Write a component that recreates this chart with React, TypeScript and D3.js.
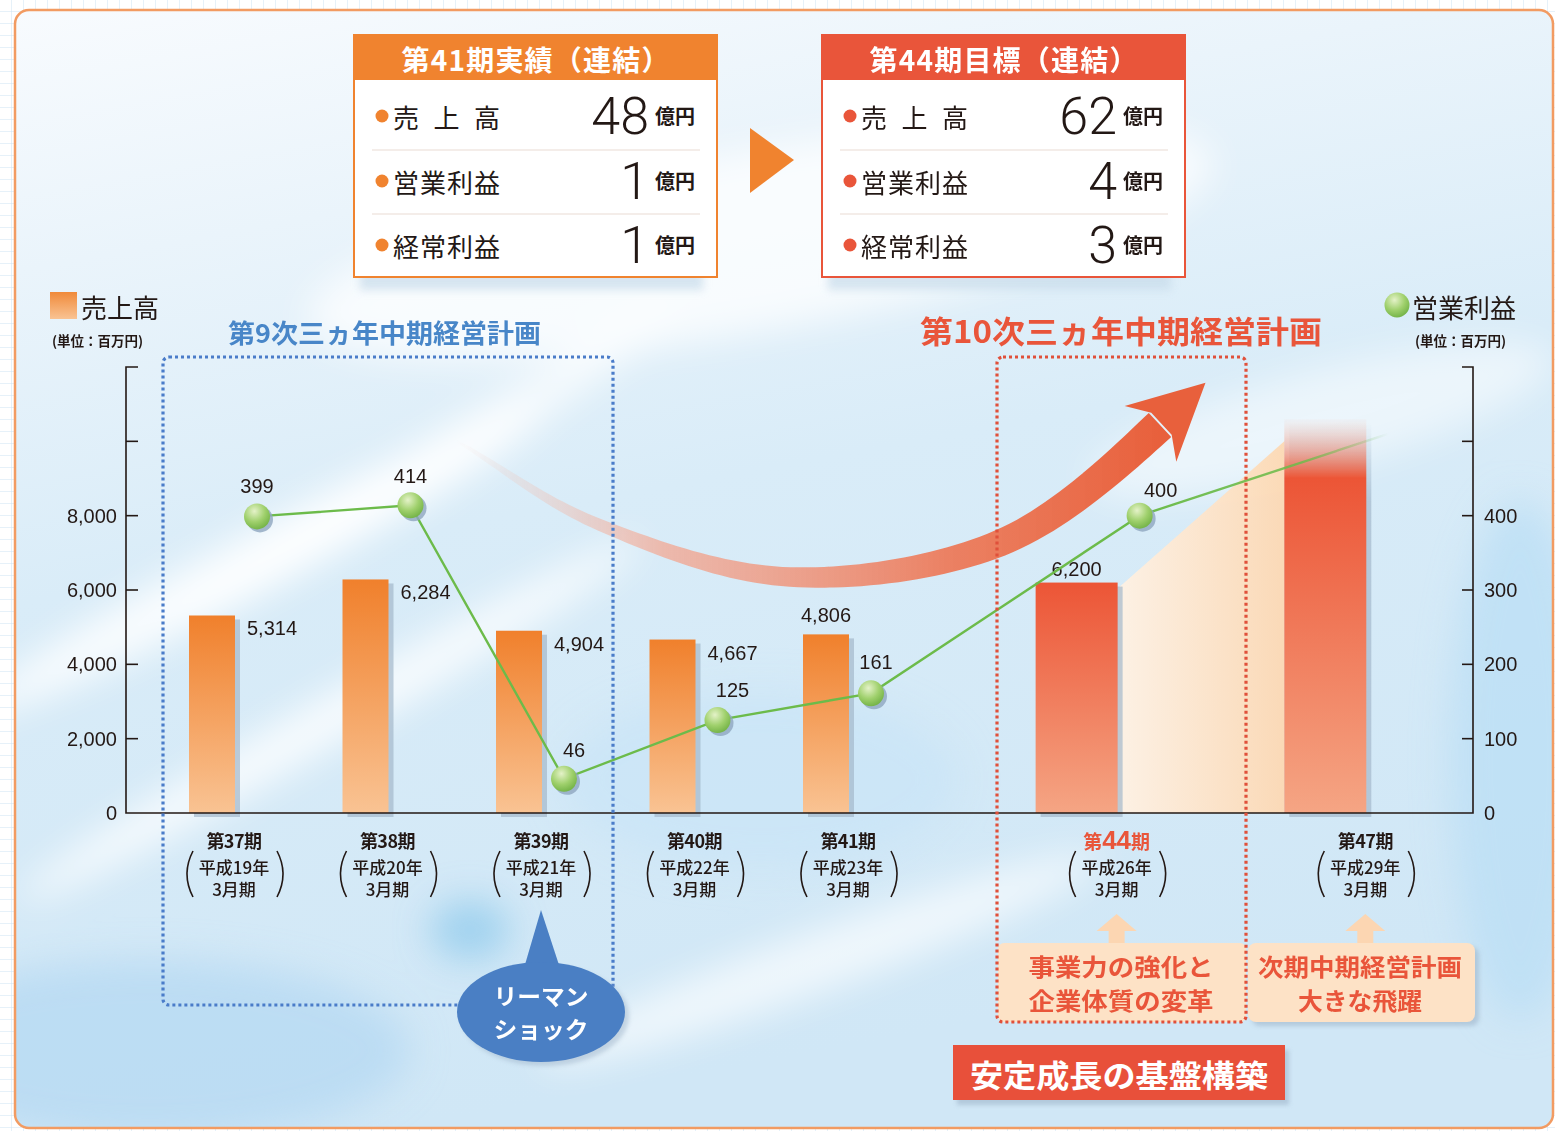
import * as d3 from "d3";

const W = 1555;
const H = 1131;

// categories (fiscal periods)
const periods = ["第37期", "第38期", "第39期", "第40期", "第41期", "第44期", "第47期"];
const eraYears = ["平成19年", "平成20年", "平成21年", "平成22年", "平成23年", "平成26年", "平成29年"];
// horizontal slot of each period (gap before the plan years)
const slots = [0, 1, 2, 3, 4, 5.75, 7.37];
const planned = [false, false, false, false, false, true, true];

// 売上高 (百万円) - last one is an unlabelled outlook bar
const sales = [5314, 6284, 4904, 4667, 4806, 6200, 10600];
const salesLabels = ["5,314", "6,284", "4,904", "4,667", "4,806", "6,200", ""];
const salesJoin = 10000; // where the peach band meets the 第47期 bar

// 営業利益 (百万円)
const profit = [399, 414, 46, 125, 161, 400];
const profitOutlook = 510;

const salesTicks = [0, 2000, 4000, 6000, 8000, 10000, 12000];
const profitTicks = [0, 100, 200, 300, 400, 500, 600];

// summary boxes
const summaryItems = ["売 上 高", "営業利益", "経常利益"];
const resultValues = ["48", "1", "1"];
const targetValues = ["62", "4", "3"];

const JP = "'Noto Sans CJK JP', 'Noto Sans', sans-serif";
const NUM = "'Liberation Sans', Arial, sans-serif";
const THIN = "Roboto, 'Liberation Sans', sans-serif";
const INK = "#231815";
const ORANGE = "#f0832f";
const RED = "#e9553a";

const yL = d3.scaleLinear().domain([0, 12000]).range([813, 367]);
const yR = d3.scaleLinear().domain([0, 600]).range([813, 367]);
const xs = d3.scaleLinear().domain([0, 1]).range([234, 387.5]);
const cx = (i: number) => xs(slots[i]);

const profitDx = [0, 0, 10, 15, 5, 21];
const profitDy = [-30, -29, -29, -30, -31, -26];

// curved arrow centre line (annotation)
const arrowGuide: [number, number][] = [
  [300, 350],
  [455, 440],
  [600, 525],
  [790, 577],
  [1000, 543],
  [1160, 425],
  [1230, 330],
];

function catmull(pts: [number, number][], steps: number) {
  const out: [number, number][] = [];
  for (let i = 1; i < pts.length - 2; i++) {
    const p0 = pts[i - 1], p1 = pts[i], p2 = pts[i + 1], p3 = pts[i + 2];
    for (let k = 0; k < steps; k++) {
      const t = k / steps;
      const t2 = t * t, t3 = t2 * t;
      const f = (a: number, b: number, c: number, d: number) =>
        0.5 * (2 * b + (-a + c) * t + (2 * a - 5 * b + 4 * c - d) * t2 + (-a + 3 * b - 3 * c + d) * t3);
      out.push([f(p0[0], p1[0], p2[0], p3[0]), f(p0[1], p1[1], p2[1], p3[1])]);
    }
  }
  out.push(pts[pts.length - 2]);
  return out;
}

function arrowShapes() {
  const pts = catmull(arrowGuide, 24);
  const lens = [0];
  for (let i = 1; i < pts.length; i++) {
    lens.push(lens[i - 1] + Math.hypot(pts[i][0] - pts[i - 1][0], pts[i][1] - pts[i - 1][1]));
  }
  const total = lens[lens.length - 1];
  const left: [number, number][] = [];
  const right: [number, number][] = [];
  pts.forEach((p, i) => {
    const a = pts[Math.max(0, i - 1)];
    const b = pts[Math.min(pts.length - 1, i + 1)];
    const dx = b[0] - a[0], dy = b[1] - a[1];
    const l = Math.hypot(dx, dy) || 1;
    const nx = -dy / l, ny = dx / l;
    const s = lens[i] / total;
    const w = (2 + 31 * Math.pow(s, 0.75)) / 2;
    left.push([p[0] + nx * w, p[1] + ny * w]);
    right.push([p[0] - nx * w, p[1] - ny * w]);
  });
  const shaft = "M" + left.concat(right.reverse()).map((p) => p.join(",")).join("L") + "Z";
  const end = arrowGuide[arrowGuide.length - 2];
  const prev = arrowGuide[arrowGuide.length - 3];
  const nxt = arrowGuide[arrowGuide.length - 1];
  let ux = nxt[0] - prev[0], uy = nxt[1] - prev[1];
  const ul = Math.hypot(ux, uy);
  ux /= ul; uy /= ul;
  const nx = -uy, ny = ux;
  const tip = [end[0] + ux * 62, end[1] + uy * 62];
  const b1 = [end[0] - ux * 13 + nx * 38, end[1] - uy * 13 + ny * 38];
  const b2 = [end[0] - ux * 13 - nx * 38, end[1] - uy * 13 - ny * 38];
  const n1 = [end[0] + ux * 2 + nx * 15, end[1] + uy * 2 + ny * 15];
  const n2 = [end[0] + ux * 2 - nx * 15, end[1] + uy * 2 - ny * 15];
  const head = `M${tip}L${b1}L${n1}L${n2}L${b2}Z`;
  return { shaft, head };
}

function SummaryBox({ x, title, values, color }: { x: number; title: string; values: string[]; color: string }) {
  const w = 363;
  const rows = [116, 181, 245];
  return (
    <g>
      <rect x={x + 6} y={270} width={w - 20} height={20} fill="#c7dbea" opacity={0.7} filter="url(#blur4)" />
      <rect x={x} y={35} width={w} height={242} fill="#ffffff" stroke={color} strokeWidth={2} />
      <rect x={x} y={35} width={w} height={45} fill={color} />
      <text x={x + w / 2} y={59} textAnchor="middle" dominantBaseline="central" fill="#fff" fontFamily={JP} fontWeight={700} fontSize={28} textLength={268} lengthAdjust="spacing">
        {title}
      </text>
      {[150, 214].map((y) => (
        <line key={y} x1={x + 18} x2={x + 346} y1={y} y2={y} stroke="#eadcd4" strokeWidth={1.2} />
      ))}
      {rows.map((y, i) => (
        <g key={i}>
          <circle cx={x + 28} cy={y} r={6.5} fill={color} />
          <text x={x + 39} y={y} dominantBaseline="central" fill={INK} fontFamily={JP} fontSize={26} textLength={107} lengthAdjust="spacing">
            {summaryItems[i]}
          </text>
          <text x={x + 295} y={y + 18} textAnchor="end" fill={INK} fontFamily={THIN} fontWeight={300} fontSize={52}>
            {values[i]}
          </text>
          <text x={x + 301} y={y + 8} fill={INK} fontFamily={JP} fontWeight={700} fontSize={20}>
            億円
          </text>
        </g>
      ))}
    </g>
  );
}

function UpArrow({ x }: { x: number }) {
  const pts = [
    [x, 914], [x + 20, 931], [x + 8, 931], [x + 8, 945], [x - 8, 945], [x - 8, 931], [x - 20, 931],
  ];
  return <polygon points={pts.map((p) => p.join(",")).join(" ")} fill="#fcd6b2" />;
}

export default function App() {
  const { shaft, head } = arrowShapes();
  const mx = (i: number) => cx(i) + 23;
  const line = d3
    .line<number>()
    .x((_, i) => mx(i))
    .y((d) => yR(d));
  const p5 = [mx(5), yR(profit[5])];
  const pEnd = [mx(6), yR(profitOutlook)];

  const i44 = 5, i47 = 6;
  const r44 = cx(i44) + 1;
  const l47 = cx(i47) + 1 - 82;

  return (
    <svg width={W} height={H} style={{ position: "absolute", left: 0, top: 0, display: "block" }} fontFamily={JP}>
      <defs>
        <pattern id="grid" width={12} height={12} patternUnits="userSpaceOnUse">
          <rect width={12} height={12} fill="#ffffff" />
          <path d="M12 0V12M0 12H12" stroke="#cde3f3" strokeWidth={1} />
        </pattern>
        <linearGradient id="sky" x1="0" y1="0" x2="0.25" y2="1">
          <stop offset="0" stopColor="#f8fbfe" />
          <stop offset="0.22" stopColor="#eaf4fb" />
          <stop offset="0.5" stopColor="#d9ecf8" />
          <stop offset="1" stopColor="#d0e7f6" />
        </linearGradient>
        <filter id="blur20" x="-50%" y="-50%" width="200%" height="200%">
          <feGaussianBlur stdDeviation={18} />
        </filter>
        <filter id="blur4" x="-20%" y="-50%" width="140%" height="200%">
          <feGaussianBlur stdDeviation={4} />
        </filter>
        <filter id="blur2" x="-20%" y="-20%" width="140%" height="140%">
          <feGaussianBlur stdDeviation={2} />
        </filter>
        <clipPath id="frameClip">
          <rect x={15} y={10} width={1538} height={1118} rx={14} />
        </clipPath>
        <linearGradient id="barActual" x1="0" y1="0" x2="0" y2="1">
          <stop offset="0" stopColor="#f0802c" />
          <stop offset="1" stopColor="#f9c393" />
        </linearGradient>
        <linearGradient id="barPlan" x1="0" y1="0" x2="0" y2="1">
          <stop offset="0" stopColor="#ec5536" />
          <stop offset="1" stopColor="#f5a584" />
        </linearGradient>
        <linearGradient id="barPlanFade" x1="0" y1="0" x2="0" y2="1">
          <stop offset="0" stopColor="#f7b8a4" stopOpacity={0.05} />
          <stop offset="0.15" stopColor="#ec5536" stopOpacity={1} />
          <stop offset="1" stopColor="#f5a584" />
        </linearGradient>
        <linearGradient id="shadowFade" x1="0" y1="0" x2="0" y2="1">
          <stop offset="0" stopColor="#a4b8cb" stopOpacity={0} />
          <stop offset="0.2" stopColor="#a4b8cb" stopOpacity={0.7} />
          <stop offset="1" stopColor="#a4b8cb" stopOpacity={0.7} />
        </linearGradient>
        <linearGradient id="peach" x1="0" y1="0" x2="1" y2="0">
          <stop offset="0" stopColor="#fef1e3" />
          <stop offset="1" stopColor="#fcd8b3" />
        </linearGradient>
        <linearGradient id="arrowGrad" gradientUnits="userSpaceOnUse" x1={455} y1={0} x2={1160} y2={0}>
          <stop offset="0" stopColor="#f6c2b2" stopOpacity={0} />
          <stop offset="0.3" stopColor="#f2a792" stopOpacity={0.75} />
          <stop offset="0.7" stopColor="#ec7b5b" stopOpacity={0.95} />
          <stop offset="1" stopColor="#e8603c" />
        </linearGradient>
        <linearGradient id="lineFade" gradientUnits="userSpaceOnUse" x1={p5[0]} y1={0} x2={pEnd[0]} y2={0}>
          <stop offset="0" stopColor="#6cbb4a" />
          <stop offset="0.65" stopColor="#6cbb4a" stopOpacity={0.85} />
          <stop offset="1" stopColor="#6cbb4a" stopOpacity={0} />
        </linearGradient>
        <radialGradient id="dot" cx="0.4" cy="0.3" r="0.75">
          <stop offset="0" stopColor="#e4f2c8" />
          <stop offset="0.55" stopColor="#9fd06c" />
          <stop offset="1" stopColor="#6fb043" />
        </radialGradient>
        <linearGradient id="legendSq" x1="0" y1="0" x2="0" y2="1">
          <stop offset="0" stopColor="#f08a3a" />
          <stop offset="1" stopColor="#f9c393" />
        </linearGradient>
      </defs>

      {/* background */}
      <rect width={W} height={H} fill="url(#grid)" />
      <rect x={15} y={10} width={1538} height={1118} rx={14} fill="url(#sky)" />
      <g clipPath="url(#frameClip)">
        <g filter="url(#blur20)">
          <ellipse cx={260} cy={560} rx={320} ry={30} fill="#ffffff" opacity={0.85} transform="rotate(-28 260 560)" />
          <ellipse cx={330} cy={720} rx={360} ry={24} fill="#ffffff" opacity={0.8} transform="rotate(-30 330 720)" />
          <ellipse cx={420} cy={470} rx={300} ry={22} fill="#ffffff" opacity={0.75} transform="rotate(-32 420 470)" />
          <ellipse cx={150} cy={1050} rx={260} ry={90} fill="#b6daf3" opacity={0.8} />
          <ellipse cx={1520} cy={760} rx={70} ry={260} fill="#bcdff5" opacity={0.8} />
          <ellipse cx={760} cy={240} rx={460} ry={90} fill="#ffffff" opacity={0.75} transform="rotate(-10 760 240)" />
          <ellipse cx={820} cy={960} rx={300} ry={30} fill="#ffffff" opacity={0.65} transform="rotate(-20 820 960)" />
          <ellipse cx={1320} cy={420} rx={240} ry={50} fill="#ffffff" opacity={0.5} transform="rotate(-15 1320 420)" />
          <ellipse cx={470} cy={930} rx={40} ry={30} fill="#7fc3ea" opacity={0.6} />
          <ellipse cx={760} cy={780} rx={200} ry={90} fill="#c9e4f6" opacity={0.7} />
        </g>
      </g>
      <rect x={15} y={10} width={1538} height={1118} rx={14} fill="none" stroke="#f29b62" strokeWidth={2.5} />

      {/* summary boxes */}
      <SummaryBox x={354} title="第41期実績（連結）" values={resultValues} color={ORANGE} />
      <SummaryBox x={822} title="第44期目標（連結）" values={targetValues} color={RED} />
      <polygon points="750,128 750,193 794,160" fill={ORANGE} />

      {/* legends */}
      <rect x={50} y={292} width={27} height={27} fill="url(#legendSq)" />
      <text x={81} y={306} dominantBaseline="central" fill={INK} fontSize={26}>売上高</text>
      <text x={52} y={340} dominantBaseline="central" fill={INK} fontSize={13.5} fontWeight={700}>(単位：百万円)</text>
      <circle cx={1397} cy={305} r={12.5} fill="url(#dot)" />
      <text x={1412} y={306} dominantBaseline="central" fill={INK} fontSize={26}>営業利益</text>
      <text x={1415} y={340} dominantBaseline="central" fill={INK} fontSize={13.5} fontWeight={700}>(単位：百万円)</text>

      {/* plan titles */}
      <text x={228} y={331} dominantBaseline="central" fill="#4886c8" fontSize={26} fontWeight={700} textLength={313} lengthAdjust="spacingAndGlyphs">
        第9次三ヵ年中期経営計画
      </text>
      <text x={920} y={329} dominantBaseline="central" fill={RED} fontSize={31} fontWeight={700} textLength={402} lengthAdjust="spacingAndGlyphs">
        第10次三ヵ年中期経営計画
      </text>

      {/* peach band between 第44期 and 第47期 */}
      <polygon
        points={`${r44},${yL(0)} ${r44},${yL(sales[i44]) + 6} ${l47},${yL(salesJoin)} ${l47},${yL(0)}`}
        fill="url(#peach)"
        opacity={0.95}
      />

      {/* bars */}
      {sales.map((v, i) => {
        const bw = planned[i] ? 82 : 46;
        const x0 = cx(i) + 1 - bw;
        const fade = i === i47;
        return (
          <g key={i}>
            <rect x={x0 + 5} y={yL(v) + 4} width={bw} height={yL(0) - yL(v)} fill={fade ? "url(#shadowFade)" : "#a4b8cb"} opacity={fade ? 1 : 0.7} />
            <rect
              x={x0}
              y={yL(v)}
              width={bw}
              height={yL(0) - yL(v)}
              fill={fade ? "url(#barPlanFade)" : planned[i] ? "url(#barPlan)" : "url(#barActual)"}
            />
          </g>
        );
      })}

      {/* big arrow */}
      <path d={shaft} fill="url(#arrowGrad)" />
      <path d={head} fill="#e8603c" />

      {/* axes */}
      <g stroke="#231815" strokeWidth={1.6} fill="none">
        <path d={`M138,${yL(12000)}H126V${yL(0)}H1473V${yR(600)}H1462`} />
        {salesTicks.slice(1, -1).map((t) => (
          <line key={t} x1={126} x2={138} y1={yL(t)} y2={yL(t)} />
        ))}
        {profitTicks.slice(1, -1).map((t) => (
          <line key={t} x1={1462} x2={1473} y1={yR(t)} y2={yR(t)} />
        ))}
      </g>
      {salesTicks.filter((t) => t <= 8000).map((t) => (
        <text key={t} x={117} y={yL(t)} textAnchor="end" dominantBaseline="central" fill={INK} fontFamily={NUM} fontSize={20}>
          {d3.format(",")(t)}
        </text>
      ))}
      {profitTicks.filter((t) => t <= 400).map((t) => (
        <text key={t} x={1484} y={yR(t)} dominantBaseline="central" fill={INK} fontFamily={NUM} fontSize={20}>
          {t}
        </text>
      ))}

      {/* bar value labels */}
      {salesLabels.map((s, i) => {
        if (!s) return null;
        const bw = planned[i] ? 82 : 46;
        const above = i >= 4;
        return (
          <text
            key={i}
            x={above ? cx(i) + 1 - bw / 2 : cx(i) + 13}
            y={above ? yL(sales[i]) - (planned[i] ? 14 : 19) : yL(sales[i]) + 13}
            textAnchor={above ? "middle" : "start"}
            dominantBaseline="central"
            fill={INK}
            fontFamily={NUM}
            fontSize={20}
          >
            {s}
          </text>
        );
      })}

      {/* profit line */}
      <path d={`M${p5}L${pEnd}`} stroke="url(#lineFade)" strokeWidth={2.4} fill="none" />
      <path d={line(profit) || ""} stroke="#6cbb4a" strokeWidth={2.4} fill="none" />
      {profit.map((v, i) => (
        <g key={i}>
          <circle cx={mx(i) + 3} cy={yR(v) + 3} r={13} fill="#8ea6bf" opacity={0.8} />
          <circle cx={mx(i)} cy={yR(v)} r={13} fill="url(#dot)" />
          <text x={mx(i) + profitDx[i]} y={yR(v) + profitDy[i]} textAnchor="middle" dominantBaseline="central" fill={INK} fontFamily={NUM} fontSize={20}>
            {v}
          </text>
        </g>
      ))}

      {/* category labels */}
      {periods.map((p, i) => {
        const c = cx(i);
        const plan44 = i === i44;
        return (
          <g key={i}>
            {plan44 ? (
              <text x={c} y={840} textAnchor="middle" dominantBaseline="central" fill={RED} fontWeight={700} fontSize={19}>
                第<tspan fontSize={26} fontFamily={NUM}>44</tspan>期
              </text>
            ) : (
              <text x={c} y={840} textAnchor="middle" dominantBaseline="central" fill={INK} fontWeight={700} fontSize={18} letterSpacing={-0.5}>
                {p}
              </text>
            )}
            <text x={c} y={866} textAnchor="middle" dominantBaseline="central" fill={INK} fontSize={17} fontWeight={500}>
              {eraYears[i]}
            </text>
            <text x={c} y={888} textAnchor="middle" dominantBaseline="central" fill={INK} fontSize={17} fontWeight={500}>
              3月期
            </text>
            <path d={`M${c - 41},851Q${c - 53},874 ${c - 41},897M${c + 43},851Q${c + 55},874 ${c + 43},897`} stroke={INK} strokeWidth={1.6} fill="none" />
          </g>
        );
      })}

      {/* callouts (plan side) */}
      <UpArrow x={cx(i44)} />
      <UpArrow x={cx(i47)} />
      <rect x={1252} y={947} width={227} height={79} rx={8} fill="#9fb5ca" opacity={0.6} filter="url(#blur2)" />
      <rect x={998} y={943} width={248} height={79} rx={6} fill="#fde2c6" />
      <rect x={1248} y={943} width={227} height={79} rx={8} fill="#fde2c6" />
      <g fill={RED} fontWeight={700} fontSize={23.5} textAnchor="middle">
        <text x={1121} y={966} dominantBaseline="central" textLength={185} lengthAdjust="spacingAndGlyphs">事業力の強化と</text>
        <text x={1121} y={1000} dominantBaseline="central" textLength={185} lengthAdjust="spacingAndGlyphs">企業体質の変革</text>
        <text x={1360} y={966} dominantBaseline="central" textLength={204} lengthAdjust="spacingAndGlyphs">次期中期経営計画</text>
        <text x={1360} y={1000} dominantBaseline="central" textLength={124} lengthAdjust="spacingAndGlyphs">大きな飛躍</text>
      </g>

      {/* dotted plan frames */}
      <rect x={163} y={357} width={450} height={648} rx={6} fill="none" stroke="#4a7cc9" strokeWidth={3.2} strokeDasharray="3 3" />
      <rect x={997} y={357} width={249} height={665} rx={6} fill="none" stroke="#e0503a" strokeWidth={3.2} strokeDasharray="3 3" />

      {/* Lehman shock bubble */}
      <ellipse cx={545} cy={1016} rx={84} ry={50} fill="#9db3c9" opacity={0.5} filter="url(#blur2)" />
      <path d="M524,968L541,910L560,968Z" fill="#4a7fc4" />
      <ellipse cx={541} cy={1012} rx={84} ry={50} fill="#4a7fc4" />
      <g fill="#ffffff" fontWeight={700} fontSize={22.5} textAnchor="middle">
        <text x={541} y={995} dominantBaseline="central" textLength={95} lengthAdjust="spacingAndGlyphs">リーマン</text>
        <text x={541} y={1028} dominantBaseline="central" textLength={95} lengthAdjust="spacingAndGlyphs">ショック</text>
      </g>

      {/* foundation banner */}
      <rect x={957} y={1050} width={332} height={55} fill="#9fb5ca" opacity={0.6} filter="url(#blur2)" />
      <rect x={953} y={1045} width={332} height={55} fill="#e8503a" />
      <text x={1119} y={1073} textAnchor="middle" dominantBaseline="central" fill="#fff" fontWeight={700} fontSize={31} textLength={298} lengthAdjust="spacingAndGlyphs">
        安定成長の基盤構築
      </text>
    </svg>
  );
}
